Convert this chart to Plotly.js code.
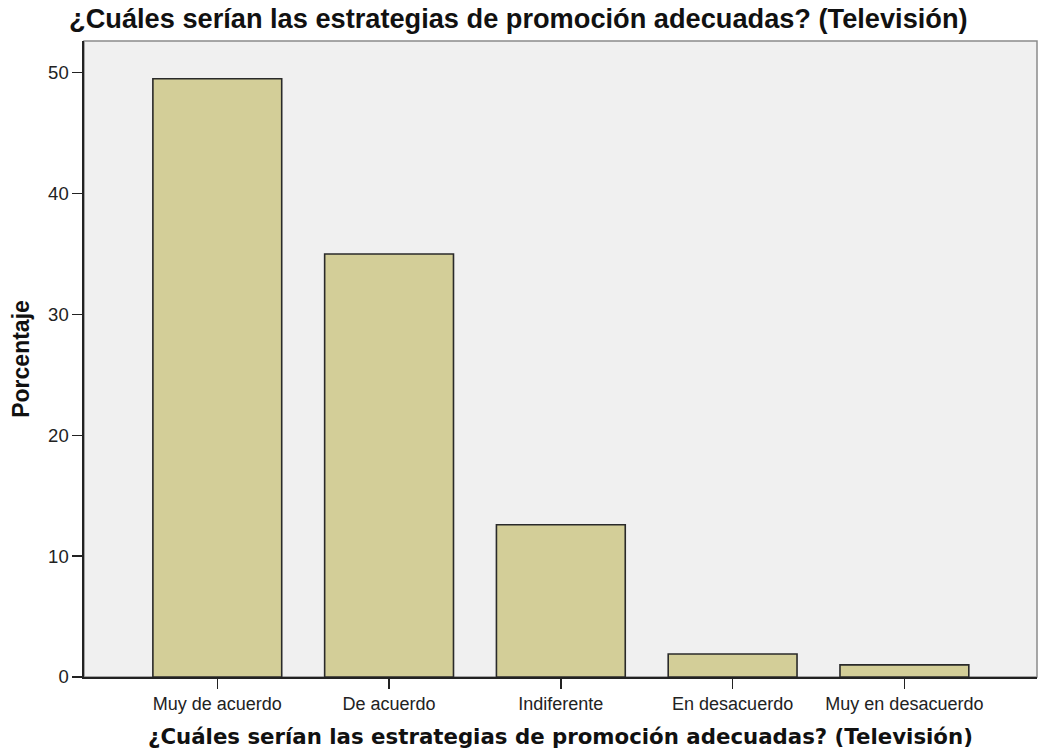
<!DOCTYPE html>
<html>
<head>
<meta charset="utf-8">
<script src="https://cdn.plot.ly/plotly-3.0.1.min.js"></script>
<style>html,body{margin:0;padding:0;background:#fff;}#chart{width:1039px;height:751px;}</style>
</head>
<body>
<div id="chart"></div>
<script>
var categories = ["Muy de acuerdo", "De acuerdo", "Indiferente", "En desacuerdo", "Muy en desacuerdo"];
var percentages = [49.5, 35.0, 12.6, 1.9, 1.0];
var yTickValues = [0, 10, 20, 30, 40, 50];
var chartTitle = "¿Cuáles serían las estrategias de promoción adecuadas? (Televisión)";
var xTitle = "¿Cuáles serían las estrategias de promoción adecuadas? (Televisión)";
var yTitle = "Porcentaje";

var trace = {
  type: "bar",
  x: categories.map(function(c, i){ return i; }),
  y: percentages,
  width: 0.75,
  marker: {color: "#D3CE98", line: {color: "#2a2a2a", width: 1.6}},
  hoverinfo: "x+y"
};

var layout = {
  width: 1039, height: 751,
  margin: {l: 84, r: 2, t: 41, b: 74},
  paper_bgcolor: "#ffffff",
  plot_bgcolor: "#F0F0F0",
  showlegend: false,
  title: {text: chartTitle, x: 0.0665, xanchor: "left", y: 0.976, yanchor: "middle",
          font: {family: "Liberation Sans, Arial, sans-serif", size: 27.2, color: "#111", weight: "bold"}},
  xaxis: {
    range: [-0.776, 4.772],
    tickmode: "array",
    tickvals: categories.map(function(c, i){ return i; }),
    ticktext: categories,
    ticks: "outside", ticklen: 10, tickwidth: 1.5, tickcolor: "#222",
    showline: true, linecolor: "#222", linewidth: 1.6,
    showgrid: false, zeroline: false,
    tickfont: {family: "Liberation Sans, Arial, sans-serif", size: 18, color: "#222"},
    title: {text: xTitle, standoff: 16,
            font: {family: "DejaVu Sans, Verdana, sans-serif", size: 21.3, color: "#111", weight: "bold"}}
  },
  yaxis: {
    range: [0, 52.62],
    tickmode: "array",
    tickvals: yTickValues,
    ticks: "outside", ticklen: 10, tickwidth: 1.5, tickcolor: "#222",
    showline: true, linecolor: "#222", linewidth: 1.6,
    showgrid: false, zeroline: false,
    tickfont: {family: "Liberation Sans, Arial, sans-serif", size: 18.5, color: "#222"},
    title: {text: yTitle, standoff: 12,
            font: {family: "Liberation Sans, Arial, sans-serif", size: 23, color: "#111", weight: "bold"}}
  },
  shapes: [{type: "rect", xref: "paper", yref: "paper", x0: 0, x1: 1, y0: 0, y1: 1,
            line: {color: "#8a8a8a", width: 1.5}, layer: "below"}]
};

Plotly.newPlot("chart", [trace], layout, {displayModeBar: false, staticPlot: true});
</script>
</body>
</html>
